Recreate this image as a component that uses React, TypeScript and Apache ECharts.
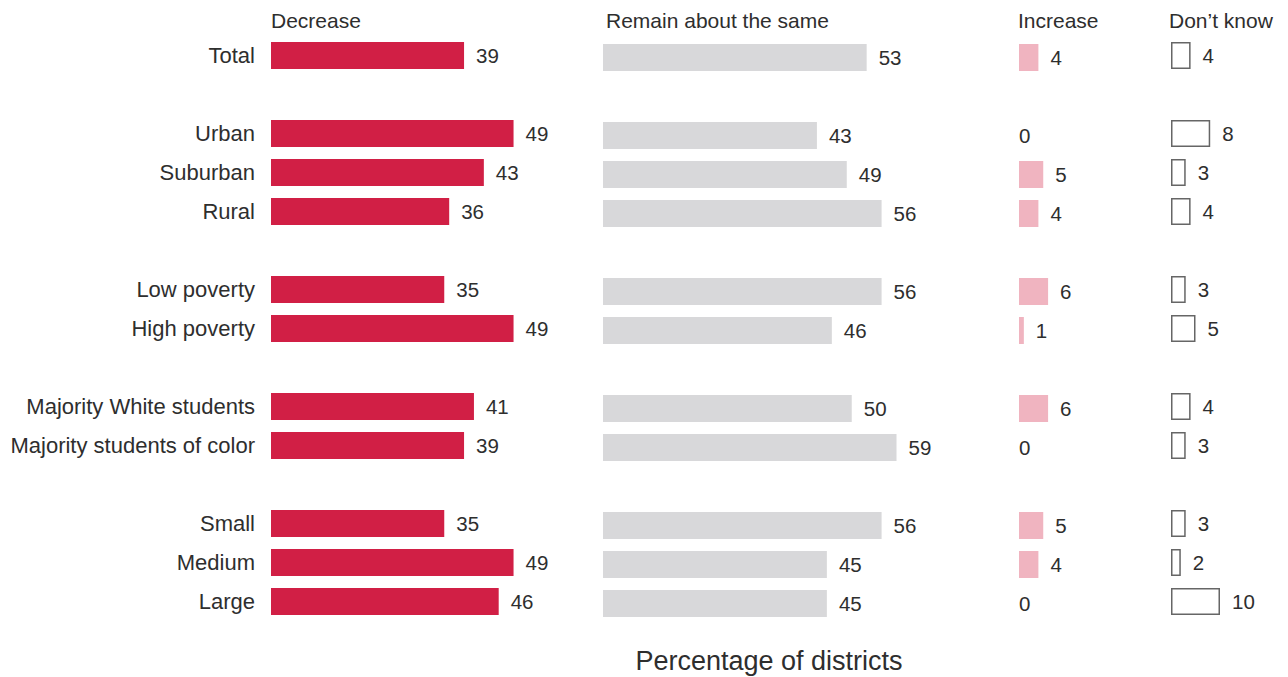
import React, { useEffect, useRef } from "react";
import * as echarts from "echarts";

const categories = [
  "Total", " ", "Urban", "Suburban", "Rural", "  ", "Low poverty", "High poverty", "   ",
  "Majority White students", "Majority students of color", "    ", "Small", "Medium", "Large",
];
const decrease = [39, null, 49, 43, 36, null, 35, 49, null, 41, 39, null, 35, 49, 46];
const remain = [53, null, 43, 49, 56, null, 56, 46, null, 50, 59, null, 56, 45, 45];
const increase = [4, null, 0, 5, 4, null, 6, 1, null, 6, 0, null, 5, 4, 0];
const dontKnow = [4, null, 8, 3, 4, null, 3, 5, null, 4, 3, null, 3, 2, 10];
const headers = ["Decrease", "Remain about the same", "Increase", "Don\u2019t know"];
const axisTitle = "Percentage of districts";

const FONT = "'Liberation Sans', Arial, Helvetica, sans-serif";
const TXT = "#2e2e2e";

export default function App() {
  const ref = useRef<HTMLDivElement>(null);
  useEffect(() => {
    if (!ref.current) return;
    const chart = echarts.init(ref.current, null, { renderer: "svg" });
    const panels = [
      { left: 271, top: 36, width: 297, max: 60, data: decrease, color: "#d11f45", border: null },
      { left: 603, top: 38, width: 298.5, max: 60, data: remain, color: "#d8d8da", border: null },
      { left: 1019, top: 38, width: 48.5, max: 10, data: increase, color: "#f0b4c0", border: null },
      { left: 1171, top: 36, width: 49, max: 10, data: dontKnow, color: "#ffffff", border: "#666666" },
    ];
    const headerX = [271, 606, 1018, 1169];
    const option: any = {
      animation: false,
      backgroundColor: "#ffffff",
      textStyle: { fontFamily: FONT },
      grid: panels.map((p) => ({ left: p.left, top: p.top, width: p.width, height: 585, containLabel: false })),
      xAxis: panels.map((p, i) => ({
        type: "value", gridIndex: i, min: 0, max: p.max, show: false,
      })),
      yAxis: panels.map((p, i) => ({
        type: "category", gridIndex: i, data: categories, inverse: true,
        axisLine: { show: false }, axisTick: { show: false }, splitLine: { show: false },
        axisLabel: i === 0 ? { show: true, fontSize: 22, color: TXT, margin: 16, fontFamily: FONT } : { show: false },
      })),
      series: panels.map((p, i) => ({
        type: "bar", xAxisIndex: i, yAxisIndex: i, barWidth: 27,
        data: p.data.map((v) =>
          v === null ? null : {
            value: v,
            label: { distance: v === 0 ? 0 : 12 },
          }
        ),
        itemStyle: p.border
          ? { color: p.color, borderColor: p.border, borderWidth: 1.5 }
          : { color: p.color },
        label: {
          show: true, position: "right", fontSize: 20.5, color: TXT, fontFamily: FONT,
          formatter: (d: any) => String(d.value),
        },
      })),
      graphic: [
        ...headers.map((h, i) => ({
          type: "text", x: headerX[i], y: 20,
          style: { text: h, fontSize: 21, fill: TXT, fontFamily: FONT, align: "left", verticalAlign: "middle" },
        })),
        {
          type: "text", x: 769, y: 661,
          style: { text: axisTitle, fontSize: 27, fill: TXT, fontFamily: FONT, align: "center", verticalAlign: "middle" },
        },
      ],
    };
    chart.setOption(option);
    return () => chart.dispose();
  }, []);
  return (
    <div
      ref={ref}
      style={{ position: "fixed", left: 0, top: 0, width: 1288, height: 677, background: "#fff" }}
    />
  );
}
